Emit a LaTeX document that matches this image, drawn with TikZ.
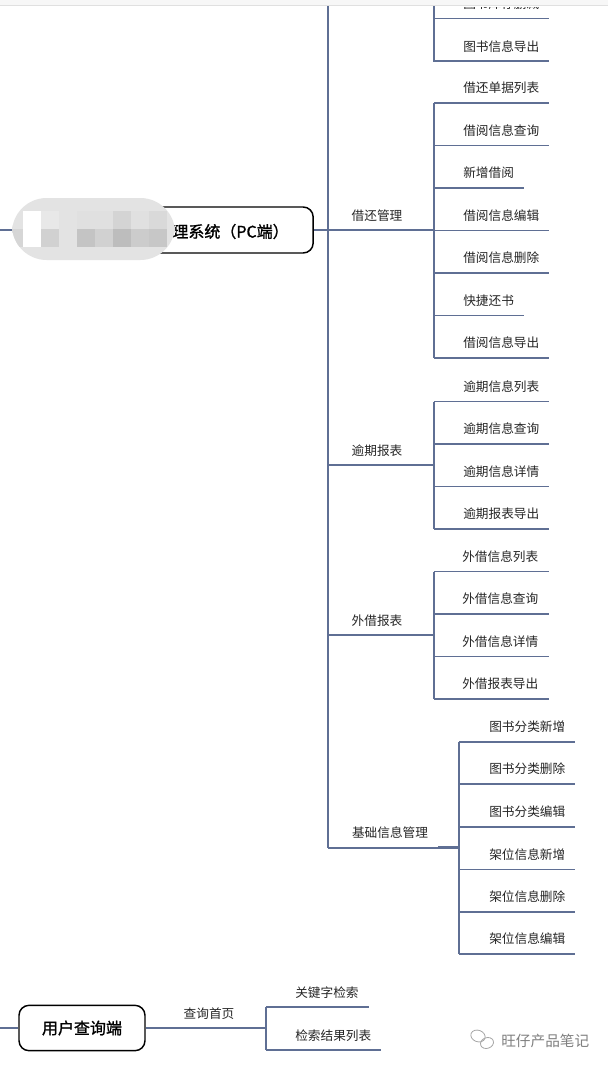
\documentclass[tikz,border=0pt]{standalone}
\usepackage{fontspec}
\setmainfont{Noto Sans CJK SC}
\newfontfamily\semibf[FakeBold=1.2]{Noto Sans CJK SC}
\usetikzlibrary{calc}
\definecolor{linec}{HTML}{5F6F94}
\tikzset{
  x=0.75pt,y=-0.75pt,
  conn/.style={draw=linec,line width=1.15pt,line cap=butt},
  thick conn/.style={draw=linec,line width=1.7pt,line cap=butt},
  leaf/.style={font=\fontsize{9.5}{11}\selectfont,text=black!85,inner sep=0pt,anchor=center},
  rootbox/.style={draw=black,line width=1.1pt,rounded corners=7.5pt,fill=white,font=\fontsize{12}{14}\selectfont\semibf,inner sep=0pt,anchor=center},
}
\begin{document}
\begin{tikzpicture}
\useasboundingbox (0,0) rectangle (608,1068);
\fill[white] (0,0) rectangle (608,1068);
% top clipped region
\begin{scope}
\clip (0,7) rectangle (608,1068);
\node[leaf,anchor=west] (t0) at (463,4) {图书库存删减};
\end{scope}
% main trunk
\coordinate (trunkT) at (328,6);
\coordinate (trunkB) at (328,848);
\draw[conn] (trunkT) -- (trunkB);
\coordinate (rootIn) at (0,230);
% root
\draw[conn] (rootIn) -- (114,230);
\node[rootbox,minimum width=149.5pt,minimum height=34.5pt] (root) at (213.5,230) {};
\node[font=\fontsize{12}{14}\selectfont\semibf,anchor=east,inner sep=0pt] (rootT) at (289,231.5) {理系统（PC端）};
\draw[conn] (root.east) -- (412,230);
% books
\coordinate (bkT) at (434,6);
\coordinate (bk1) at (549,18.5);
\coordinate (bk2) at (549,61);
\draw[conn] (bkT) -- (434,61) -- (bk2);
\draw[conn] (434,18.5) -- (bk1);
\node[leaf,anchor=west] (b2) at (463,46.5) {图书信息导出};
% borrow
\node[leaf] (g1) at (377,215.5) {借还管理};
\draw[thick conn] (412,230) -- (434,230);
\draw[conn] (434,103) -- (434,358);
\foreach \n/\y/\e/\t in {a/103/549/借还单据列表,b/145.5/549/借阅信息查询,c/188/524/新增借阅,d/230.5/549/借阅信息编辑,e/273/549/借阅信息删除,f/315.5/524/快捷还书,g/358/549/借阅信息导出}{
  \coordinate (bor\n) at (\e,\y);
  \draw[conn] (434,\y) -- (bor\n);
  \node[leaf,anchor=west] (bort\n) at (463,\y-15) {\t};
}
% overdue
\draw[conn] (328,465) -- (412,465);
\draw[thick conn] (412,465) -- (434,465);
\node[leaf] (g2) at (377,450.5) {逾期报表};
\draw[conn] (434,401.5) -- (434,529);
\foreach \n/\y/\t in {a/401.5/逾期信息列表,b/444/逾期信息查询,c/486.5/逾期信息详情,d/529/逾期报表导出}{
  \coordinate (ov\n) at (549,\y);
  \draw[conn] (434,\y) -- (ov\n);
  \node[leaf,anchor=west] (ovt\n) at (463,\y-15) {\t};
}
% external
\draw[conn] (328,635) -- (412,635);
\draw[thick conn] (412,635) -- (434,635);
\node[leaf] (g3) at (377,620.5) {外借报表};
\draw[conn] (434,571.5) -- (434,699);
\foreach \n/\y/\t in {a/571.5/外借信息列表,b/614/外借信息查询,c/656.5/外借信息详情,d/699/外借报表导出}{
  \coordinate (ex\n) at (549,\y);
  \draw[conn] (434,\y) -- (ex\n);
  \node[leaf,anchor=west] (ext\n) at (462,\y-15) {\t};
}
% base
\draw[conn] (328,848) -- (438,848);
\draw[thick conn] (438,847.5) -- (459,847.5);
\node[leaf] (g4) at (390,832.5) {基础信息管理};
\draw[conn] (459,742) -- (459,954);
\foreach \n/\y/\t in {a/742/图书分类新增,b/784/图书分类删除,c/827/图书分类编辑,d/869.5/架位信息新增,e/912/架位信息删除,f/954/架位信息编辑}{
  \coordinate (ba\n) at (575,\y);
  \draw[conn] (459,\y) -- (ba\n);
  \node[leaf,anchor=west] (bat\n) at (489,\y-15) {\t};
}
% user
\node[rootbox,minimum width=94.5pt,minimum height=34pt] (user) at (82,1028) {用户查询端};
\coordinate (userIn) at (0,1028);
\draw[conn] (userIn) -- (user.west);
\draw[conn] (user.east) -- (245,1028);
\draw[thick conn] (245,1028) -- (266,1028);
\node[leaf] (q) at (209,1013.5) {查询首页};
\draw[conn] (266,1007) -- (266,1050);
\coordinate (ua) at (369,1007);
\coordinate (ub) at (381,1050);
\draw[conn] (266,1007) -- (ua);
\draw[conn] (266,1050) -- (ub);
\node[leaf,anchor=west] (uat) at (295,992.5) {关键字检索};
\node[leaf,anchor=west] (ubt) at (295,1035.5) {检索结果列表};
% blur patch
\begin{scope}
\clip[rounded corners=26pt] (12,198) rectangle (175,260);
\fill[black!11] (0,190) rectangle (180,270);
\fill[white] (23,211) rectangle (41,247);
\foreach \x/\y/\w/\h/\c in {41/211/18/18/9,77/211/18/18/12,95/211/18/18/12,113/211/18/18/17,131/211/18/18/12,149/211/18/18/15,
 12/229/11/18/16,41/229/18/18/18,77/229/18/18/23,95/229/18/18/18,113/229/18/18/26,131/229/18/18/20,149/229/18/18/22}{
  \fill[black!\c] (\x,\y) rectangle +(\w,\h);
}
\end{scope}
% watermark
\node[font=\fontsize{11}{13}\selectfont,text=black!50,inner sep=0pt,anchor=west] (wm) at (501,1041) {旺仔产品笔记};
\begin{scope}[draw=black!35,line width=0.6pt]
\draw[rotate around={-20:(478,1036)}] (478,1036) ellipse [x radius=5.5pt,y radius=4.3pt];
\draw[rotate around={20:(487,1043)}] (487,1043) ellipse [x radius=5pt,y radius=4pt];
\end{scope}
% top bar
\fill[black!3] (0,0) rectangle (608,5);
\draw[black!12,line width=0.6pt] (0,5.5) -- (608,5.5);
\end{tikzpicture}
\end{document}
